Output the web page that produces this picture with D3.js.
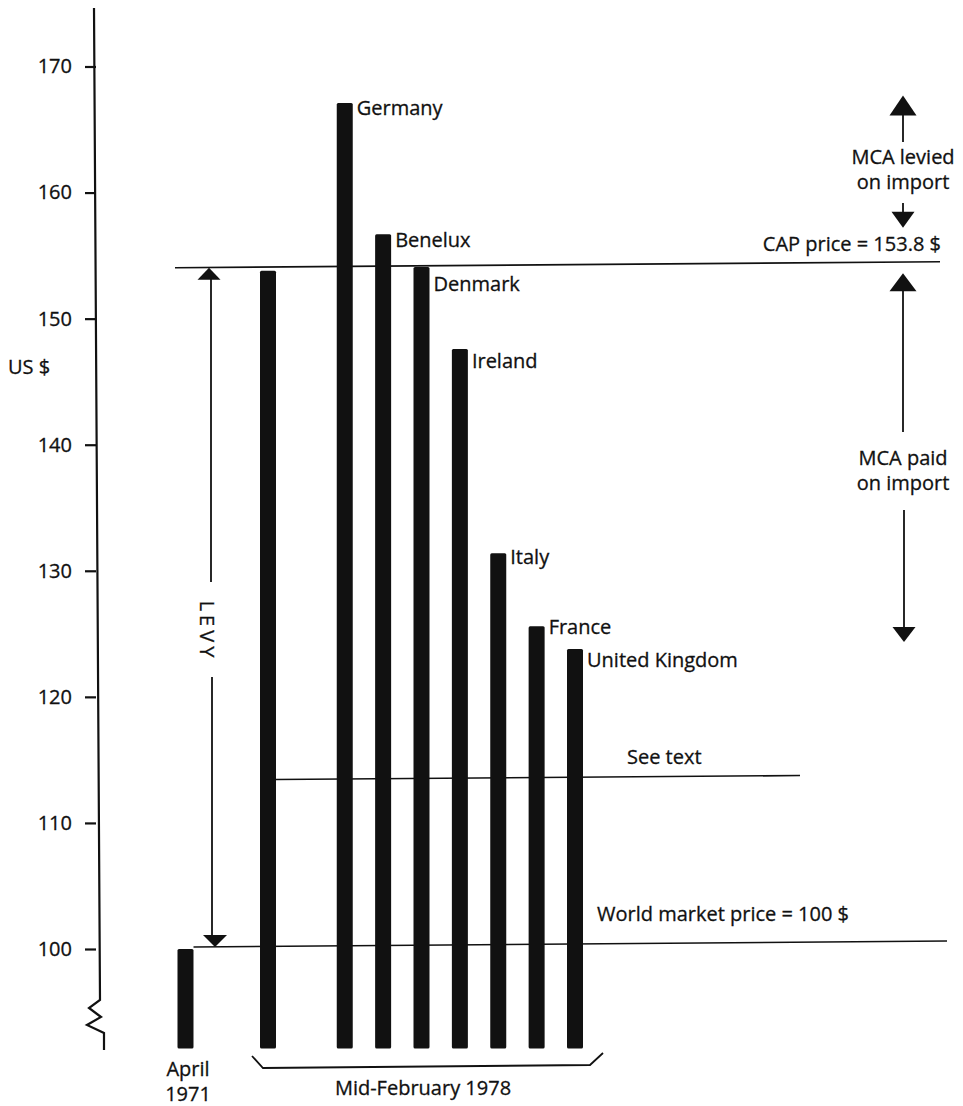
<!DOCTYPE html>
<html><head><meta charset="utf-8">
<script src="https://cdn.jsdelivr.net/npm/d3@7"></script>
<style>
body{margin:0;background:#fff}
text{font-family:"Open Sans",sans-serif;fill:#111;font-size:20px;stroke:#111;stroke-width:0.3}
</style>
</head><body><svg id="c" width="963" height="1106"></svg>
<script>
// ---- data ----
const categories = ["April 1971","CAP level","Germany","Benelux","Denmark","Ireland","Italy","France","United Kingdom"];
const values = [100,153.8,167.1,156.7,154.1,147.6,131.4,125.6,123.8];
const barLabels = ["","","Germany","Benelux","Denmark","Ireland","Italy","France","United Kingdom"];
const yTicks = [100,110,120,130,140,150,160,170];
const capPrice = 153.8;
const worldPrice = 100;
const seeTextLevel = 113.6;
const baseValue = 92.1;
const mcaLeviedRange = [167.7,157.2];
const mcaPaidRange = [153.6,124.35];

// ---- layout ----
const svg = d3.select("#c");
const y = d3.scaleLinear().domain([100,170]).range([949,66.5]);
const slot = i => i===0 ? -0.15 : (i===1 ? 2 : i+2);
const x = d3.scaleLinear().domain([2,10]).range([268,575]);
const bw = 16;
const axisX = 96;
const labelDy = {"Germany":5,"Benelux":6,"Denmark":17,"Ireland":12,"Italy":4,"France":1,"United Kingdom":11};

function twoLines(cx, cy, lines, lh, fs){
  lines.forEach((s,k)=>svg.append("text").attr("x",cx).attr("y",cy+k*lh).attr("dy","0.35em")
    .attr("text-anchor","middle").attr("font-size",fs).text(s));
}

// axis ticks
const ax = svg.append("g").attr("transform",`translate(${axisX},0)`)
  .call(d3.axisLeft(y).tickValues(yTicks).tickSize(11).tickPadding(13).tickFormat(d3.format("d")));
ax.select(".domain").remove();
ax.selectAll(".tick line").attr("stroke","#111").attr("stroke-width",2.2);
ax.selectAll(".tick text").attr("font-size",20).attr("font-family","Open Sans").attr("fill","#111");
// axis line with break
svg.append("path")
  .attr("d",`M94,8 L100,1000 L89,1008 L101,1017 L87,1025 L104,1033 L104,1050`)
  .attr("fill","none").attr("stroke","#111").attr("stroke-width",2.2);
svg.append("text").attr("x",8).attr("y",367).attr("dy","0.35em").text("US $");

// horizontal reference lines (behind bars)
svg.append("line").attr("x1",175).attr("x2",940).attr("y1",y(capPrice)-3).attr("y2",y(capPrice)-9)
  .attr("stroke","#111").attr("stroke-width",1.6);
svg.append("line").attr("x1",x(slot(0))+bw/2).attr("x2",947).attr("y1",y(worldPrice)-2).attr("y2",y(worldPrice)-8)
  .attr("stroke","#111").attr("stroke-width",1.6);
svg.append("line").attr("x1",x(slot(1))+bw/2).attr("x2",800).attr("y1",y(seeTextLevel)+2).attr("y2",y(seeTextLevel)-2)
  .attr("stroke","#111").attr("stroke-width",1.6);

// bars
svg.selectAll("rect.bar").data(values).join("rect").attr("class","bar")
  .attr("x",(d,i)=>x(slot(i))-bw/2).attr("width",bw)
  .attr("y",d=>y(d)).attr("height",d=>y(baseValue)-y(d))
  .attr("rx",1.5).attr("fill","#111");

// bar labels
svg.selectAll("text.bl").data(values).join("text").attr("class","bl")
  .attr("x",(d,i)=>x(slot(i))+bw/2+4)
  .attr("y",(d,i)=>y(d)+(labelDy[barLabels[i]]||0)).attr("dy","0.35em")
  .text((d,i)=>barLabels[i]);

// text annotations
svg.append("text").attr("x",941).attr("y",244).attr("dy","0.35em").attr("text-anchor","end").text(`CAP price = ${capPrice} $`);
svg.append("text").attr("x",597).attr("y",914).attr("dy","0.35em").text(`World market price = ${worldPrice} $`);
svg.append("text").attr("x",627).attr("y",757).attr("dy","0.35em").text("See text");

// bottom labels
twoLines(188, 1069, ["April","1971"], 25, 18);
svg.append("path").attr("d","M252,1056 L263,1068 L590,1065 L603,1053").attr("fill","none").attr("stroke","#111").attr("stroke-width",1.8);
svg.append("text").attr("x",423).attr("y",1088).attr("dy","0.35em").attr("text-anchor","middle").text("Mid-February 1978");

// arrow helpers
function tri(cx, tipY, up, w, h){
  const b = up ? tipY+h : tipY-h;
  svg.append("path").attr("d",`M${cx},${tipY} L${cx-w/2},${b} L${cx+w/2},${b} Z`).attr("fill","#111");
}
function vline(cx,y1,y2,sw){
  svg.append("line").attr("x1",cx).attr("x2",cx).attr("y1",y1).attr("y2",y2).attr("stroke","#111").attr("stroke-width",sw||1.8);
}
// LEVY
const lx = 211;
tri(lx-2, y(capPrice)-3, true, 23, 12);
vline(lx, y(capPrice)+8, 582);
vline(lx+1, 677, y(worldPrice)-12);
tri(lx+4, y(worldPrice)-2, false, 24, 12);
svg.append("text").attr("transform",`translate(${lx-4},631) rotate(90)`).attr("text-anchor","middle")
  .attr("dy","0.35em").attr("letter-spacing",4).attr("font-size",21).text("LEVY");

// MCA levied
const mx = 903;
tri(mx, y(mcaLeviedRange[0]), true, 27, 20);
vline(mx, y(mcaLeviedRange[0])+19, 142);
twoLines(mx, 157, ["MCA levied","on import"], 25, 18.5);
vline(mx, 203, y(mcaLeviedRange[1])-15);
tri(mx, y(mcaLeviedRange[1]), false, 23, 16);
// MCA paid
tri(mx, y(mcaPaidRange[0]), true, 27, 18);
vline(mx, y(mcaPaidRange[0])+17, 432);
twoLines(mx, 458, ["MCA paid","on import"], 25, 18.5);
vline(mx+1, 510, y(mcaPaidRange[1])-14);
tri(mx+1, y(mcaPaidRange[1]), false, 23, 15);
</script>
</body></html>
